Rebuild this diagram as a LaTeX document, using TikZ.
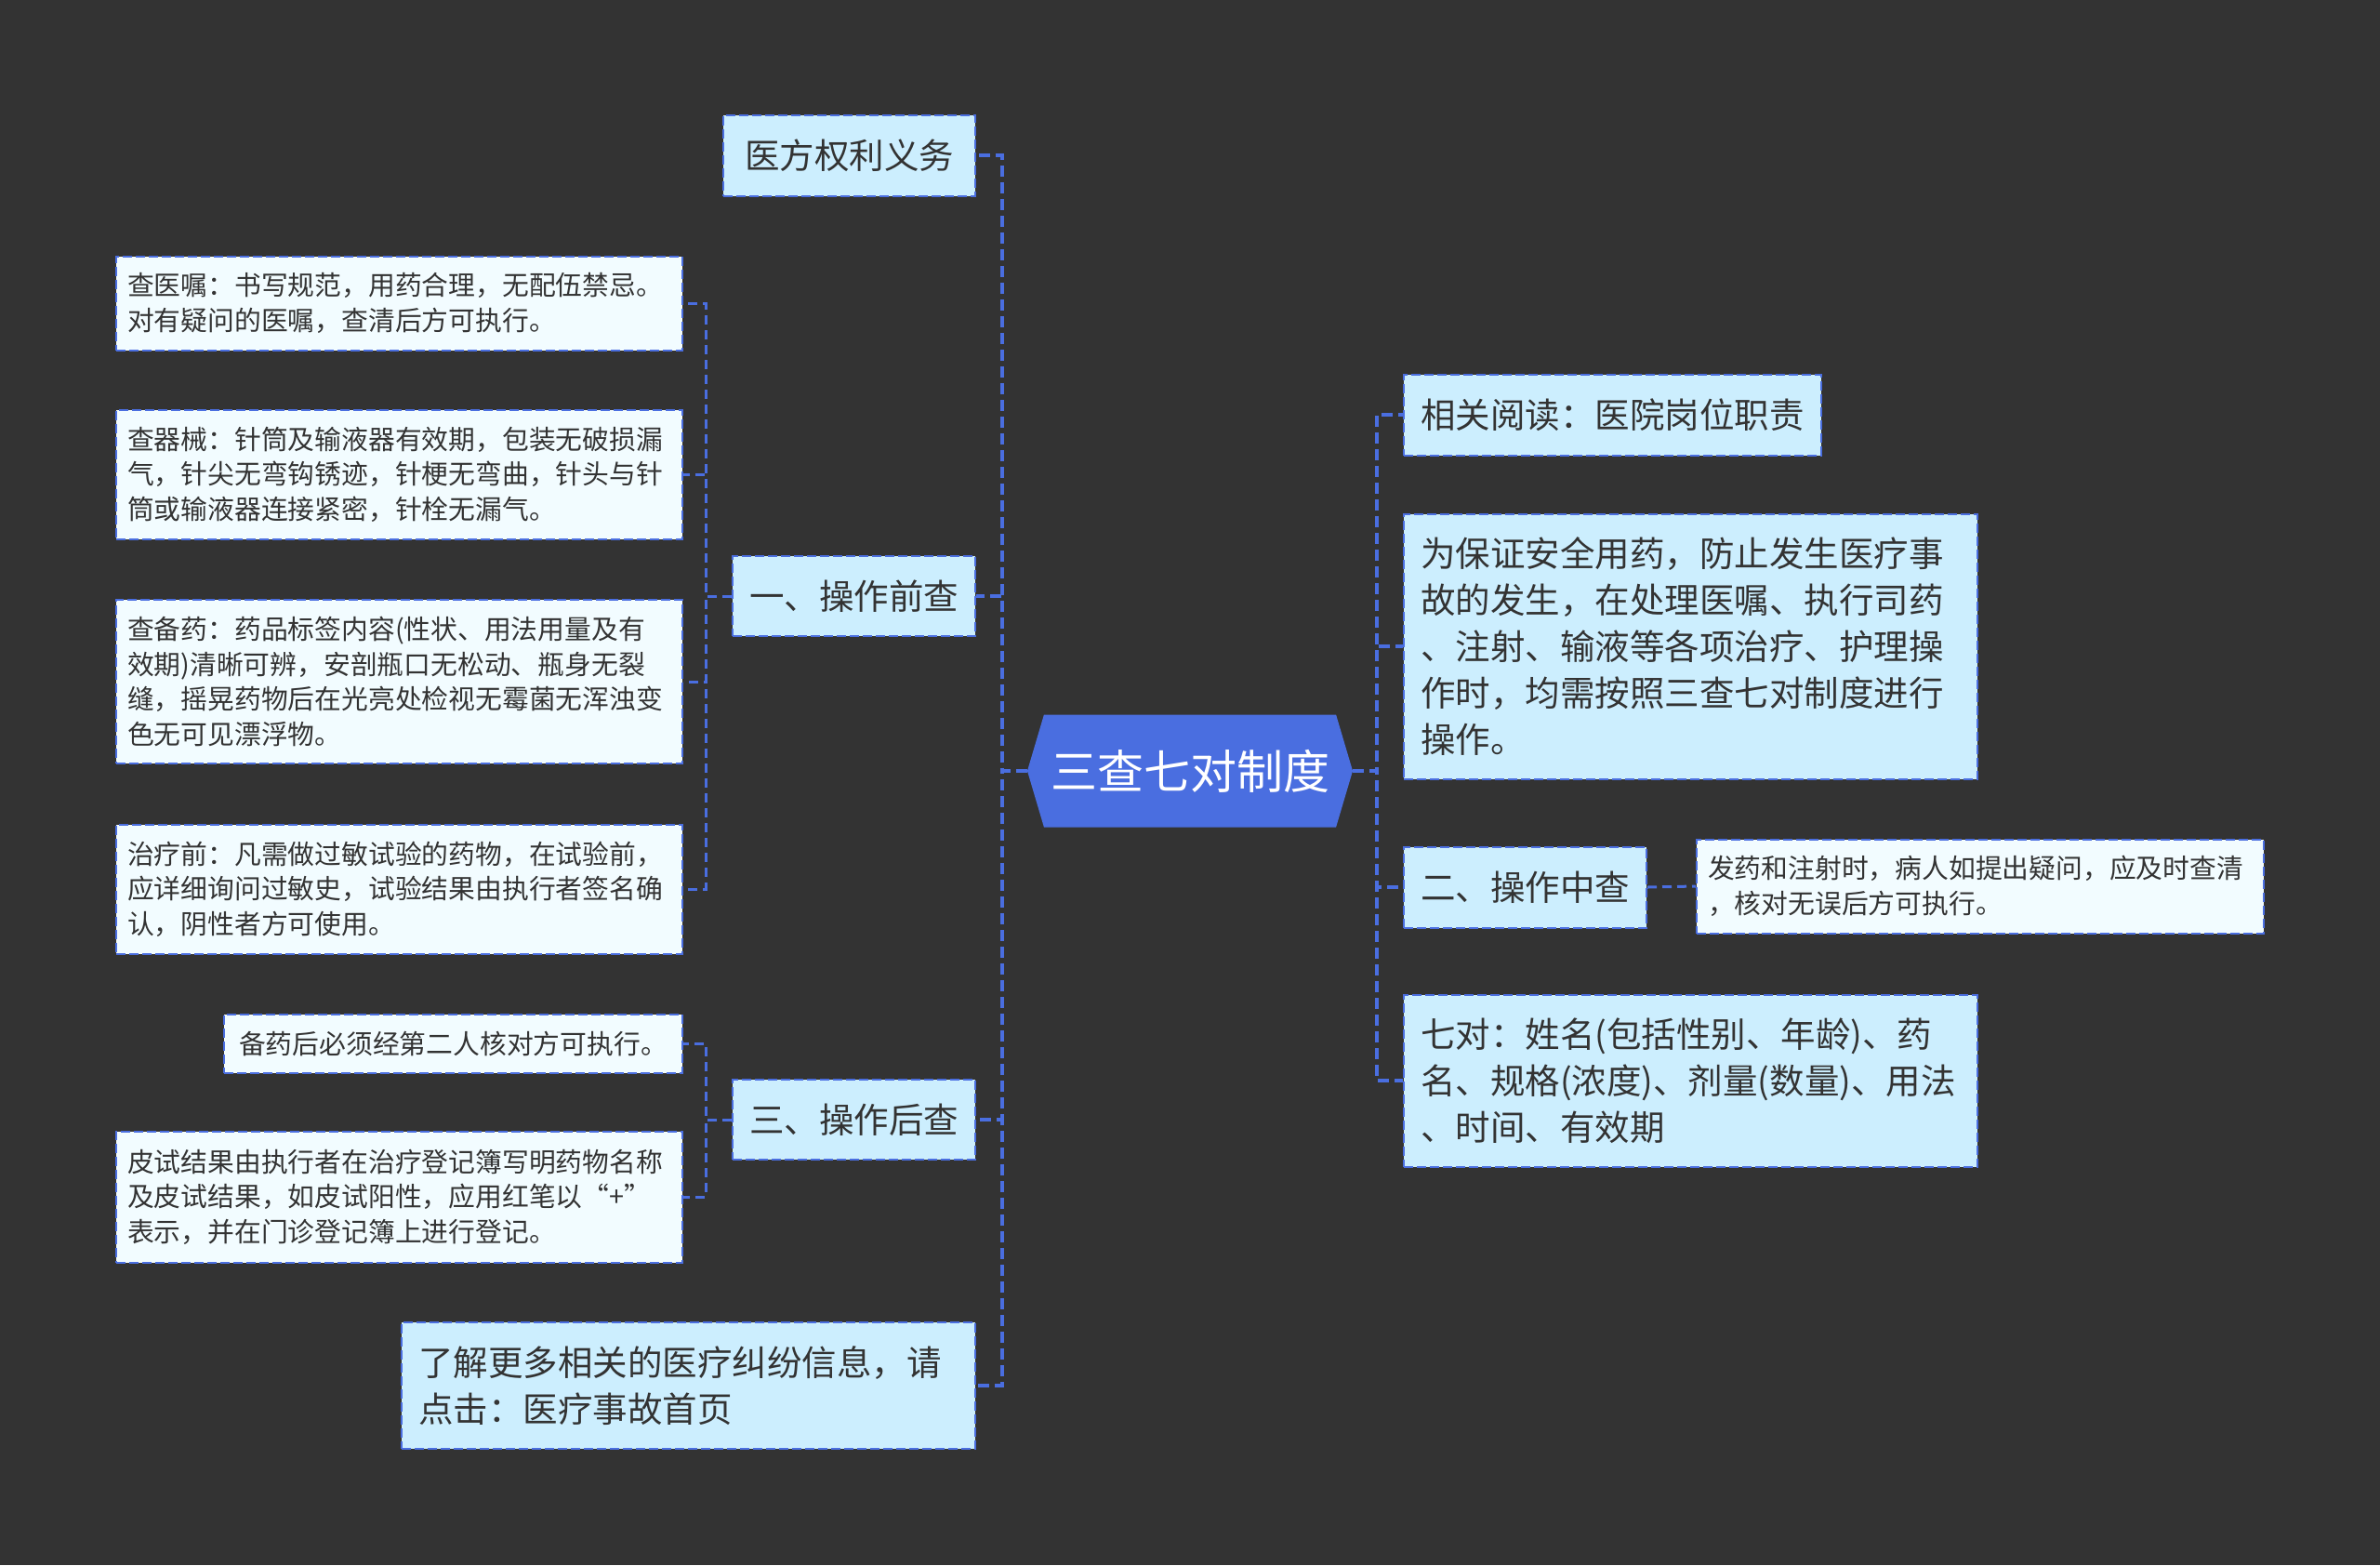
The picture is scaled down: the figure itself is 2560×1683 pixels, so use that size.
\documentclass[tikz,border=0pt]{standalone}
\usepackage{fontspec}
\setmainfont{Noto Sans CJK SC}
\usepackage{tikz}
\usetikzlibrary{positioning,shapes.symbols}
\definecolor{mapbg}{HTML}{333333}
\definecolor{mapblue}{HTML}{4A6EE0}
\definecolor{topicfill}{HTML}{CCEEFE}
\definecolor{leaffill}{HTML}{F2FCFF}
\definecolor{mapink}{HTML}{333333}

\begin{document}
\begin{tikzpicture}[
  x=0.5pt, y=-0.5pt,
  root/.style={shape=signal, signal to=west and east, signal pointer angle=147,
               fill=mapblue, text=white, font=\fontsize{25}{30}\selectfont,
               minimum width=175pt, minimum height=60.5pt, inner sep=0pt},
  topic/.style={draw=mapblue, line width=1pt, dash pattern=on 5pt off 2pt,
                fill=topicfill, text=mapink, align=left, inner xsep=9pt,
                font=\fontsize{18.75}{25}\selectfont, minimum height=43.5pt},
  leaf/.style={topic, fill=leaffill, inner xsep=6pt,
               font=\fontsize{14.4}{18.75}\selectfont},
  link/.style={draw=mapblue, line width=2pt, dash pattern=on 6pt off 3pt},
  sublink/.style={link, line width=1.5pt, dash pattern=on 5pt off 3pt},
]
\fill[mapbg] (0,0) rectangle (2560,1683);

\node[root] (sys) at (1280,829) {三查七对制度};

% left branch
\node[topic, anchor=east, minimum width=135.5pt] (duty) at (1050,167) {医方权利义务};
\node[topic, anchor=east, minimum width=130pt, minimum height=43pt] (before) at (1050,641) {一、操作前查};
\node[topic, anchor=east, minimum width=130pt, minimum height=43pt] (after) at (1050,1204) {三、操作后查};
\node[topic, anchor=east, text width=290.5pt, minimum height=68pt] (more) at (1050,1490)
  {了解更多相关的医疗纠纷信息，请\\点击：医疗事故首页};

\node[leaf, anchor=east, text width=292.5pt, minimum height=50.5pt] (order) at (735,326)
  {查医嘱：书写规范，用药合理，无配伍禁忌。\\对有疑问的医嘱，查清后方可执行。};
\node[leaf, anchor=east, text width=292.5pt, minimum height=69.5pt] (tool) at (735,510)
  {查器械：针筒及输液器有效期，包装无破损漏\\气，针尖无弯钩锈迹，针梗无弯曲，针头与针\\筒或输液器连接紧密，针栓无漏气。};
\node[leaf, anchor=east, text width=292.5pt, minimum height=88pt] (drug) at (735,733)
  {查备药：药品标签内容(性状、用法用量及有\\效期)清晰可辨，安剖瓶口无松动、瓶身无裂\\缝，摇晃药物后在光亮处检视无霉菌无浑浊变\\色无可见漂浮物。};
\node[leaf, anchor=east, text width=292.5pt, minimum height=69.5pt] (treat) at (735,956)
  {治疗前：凡需做过敏试验的药物，在试验前，\\应详细询问过敏史，试验结果由执行者签名确\\认，阴性者方可使用。};
\node[leaf, anchor=east, minimum width=246.5pt, minimum height=31.5pt] (recheck) at (735,1122)
  {备药后必须经第二人核对方可执行。};
\node[leaf, anchor=east, text width=292.5pt, minimum height=70.5pt] (skin) at (735,1287)
  {皮试结果由执行者在治疗登记簿写明药物名称\\及皮试结果，如皮试阳性，应用红笔以“+”\\表示，并在门诊登记簿上进行登记。};

% right branch
\node[topic, anchor=west, minimum width=223.5pt] (read) at (1509,446) {相关阅读：医院岗位职责};
\node[topic, anchor=west, text width=290.5pt, minimum height=142.5pt] (aim) at (1509,695)
  {为保证安全用药，防止发生医疗事\\故的发生，在处理医嘱、执行司药\\、注射、输液等各项治疗、护理操\\作时，均需按照三查七对制度进行\\操作。};
\node[topic, anchor=west, minimum width=130.5pt] (during) at (1509,954) {二、操作中查};
\node[topic, anchor=west, text width=290.5pt, minimum height=92.5pt] (seven) at (1509,1162)
  {七对：姓名(包括性别、年龄)、药\\名、规格(浓度)、剂量(数量)、用法\\、时间、有效期};
\node[leaf, anchor=west, text width=293pt, minimum height=50.5pt] (ask) at (1824,953)
  {发药和注射时，病人如提出疑问，应及时查清\\，核对无误后方可执行。};

% connectors
\foreach \n in {duty,before,after,more}
  \draw[link] (sys.west) -- ++(-27,0) |- (\n.east);
\foreach \n in {read,aim,during,seven}
  \draw[link] (sys.east) -- ++(26,0) |- (\n.west);
\foreach \n in {order,tool,drug,treat}
  \draw[sublink] (before.west) -- ++(-28,0) |- (\n.east);
\foreach \n in {recheck,skin}
  \draw[sublink] (after.west) -- ++(-28,0) |- (\n.east);
\draw[sublink] (during.east) -- (ask.west);
\end{tikzpicture}
\end{document}
